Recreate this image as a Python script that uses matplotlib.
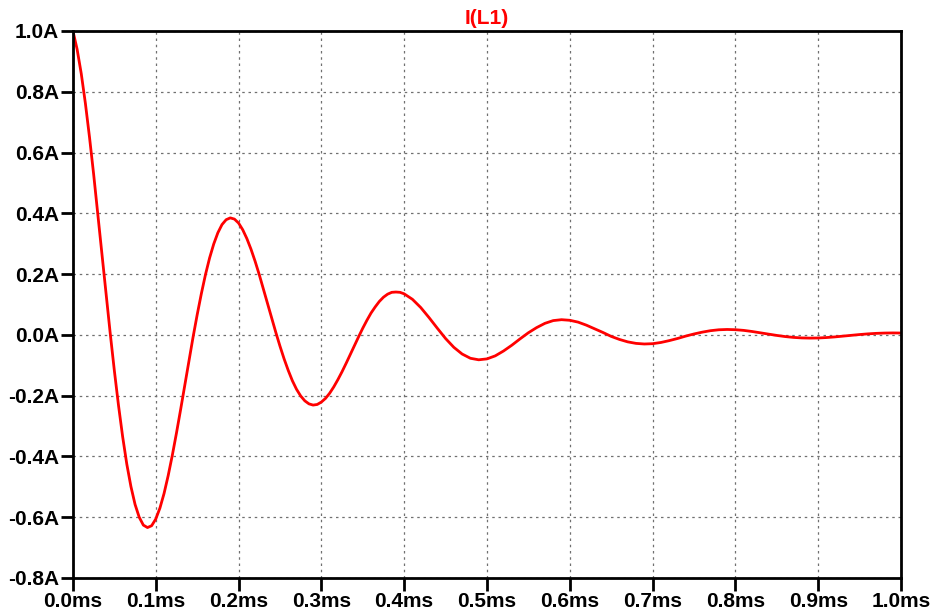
import matplotlib
matplotlib.use("Agg")
import matplotlib.pyplot as plt
from matplotlib.ticker import FuncFormatter, MultipleLocator

# Time in ms (0.005 ms step up to 0.4 ms, then 0.01 ms)
t_ms = [i * 0.005 for i in range(80)] + [0.4 + i * 0.01 for i in range(61)]

# I(L1) in amperes
i_a = [
    1.000, 0.940, 0.860, 0.762, 0.650, 0.528, 0.398, 0.266, 0.134, 0.005,
    -0.118, -0.232, -0.335, -0.425, -0.499, -0.558, -0.600, -0.626, -0.634, -0.628,
    -0.606, -0.570, -0.522, -0.463, -0.396, -0.323, -0.246, -0.166, -0.086, -0.008,
    0.066, 0.135, 0.198, 0.253, 0.299, 0.336, 0.363, 0.379, 0.385, 0.381,
    0.368, 0.346, 0.317, 0.282, 0.242, 0.198, 0.151, 0.103, 0.055, 0.008,
    -0.037, -0.079, -0.117, -0.151, -0.179, -0.201, -0.217, -0.227, -0.231, -0.229,
    -0.221, -0.209, -0.192, -0.171, -0.147, -0.121, -0.093, -0.064, -0.035, -0.006,
    0.022, 0.048, 0.072, 0.092, 0.110, 0.124, 0.134, 0.140, 0.141, 0.140,
    # 0.40 ms onward, 0.01 ms step
    0.135, 0.117, 0.090, 0.057, 0.022, -0.012, -0.041, -0.063, -0.077, -0.082,
    -0.079, -0.069, -0.053, -0.034, -0.013, 0.007, 0.024, 0.038, 0.047, 0.050,
    0.048, 0.042, 0.032, 0.020, 0.008, -0.005, -0.015, -0.023, -0.028, -0.030,
    -0.029, -0.025, -0.019, -0.012, -0.004, 0.003, 0.009, 0.0138, 0.0168, 0.0178,
    0.0170, 0.0148, 0.0112, 0.0070, 0.0025, -0.0018, -0.0055, -0.0083, -0.0100, -0.0106,
    -0.0102, -0.0088, -0.0067, -0.0041, -0.0015, 0.0011, 0.0033, 0.0050, 0.0060, 0.0064,
    0.0061,
]

trace_name = "I(L1)"

plt.rcParams['font.family'] = ['Liberation Sans', 'DejaVu Sans']
plt.rcParams['font.weight'] = 'bold'

fig = plt.figure(figsize=(9.33, 6.16), dpi=100)
ax = fig.add_axes([0.0782, 0.0617, 0.8875, 0.888])

ax.plot(t_ms, i_a, color='#ff0000', linewidth=2.0)

ax.set_xlim(0.0, 1.0)
ax.set_ylim(-0.8, 1.0)
ax.xaxis.set_major_locator(MultipleLocator(0.1))
ax.yaxis.set_major_locator(MultipleLocator(0.2))
ax.xaxis.set_major_formatter(FuncFormatter(lambda v, p: f"{v:.1f}ms"))
ax.yaxis.set_major_formatter(FuncFormatter(lambda v, p: f"{v + 0.0:.1f}A"))

ax.grid(True, color='#707070', linestyle=(0, (2, 3)), linewidth=0.9)
for s in ax.spines.values():
    s.set_linewidth(2.0)
ax.tick_params(direction='out', length=9, width=2, labelsize=15, pad=1)
for lab in ax.get_xticklabels() + ax.get_yticklabels():
    lab.set_fontweight('bold')

ax.set_title(trace_name, color='#ff0000', fontsize=15, fontweight='bold', pad=5)

fig.savefig("out.png", dpi=100, facecolor='white')
